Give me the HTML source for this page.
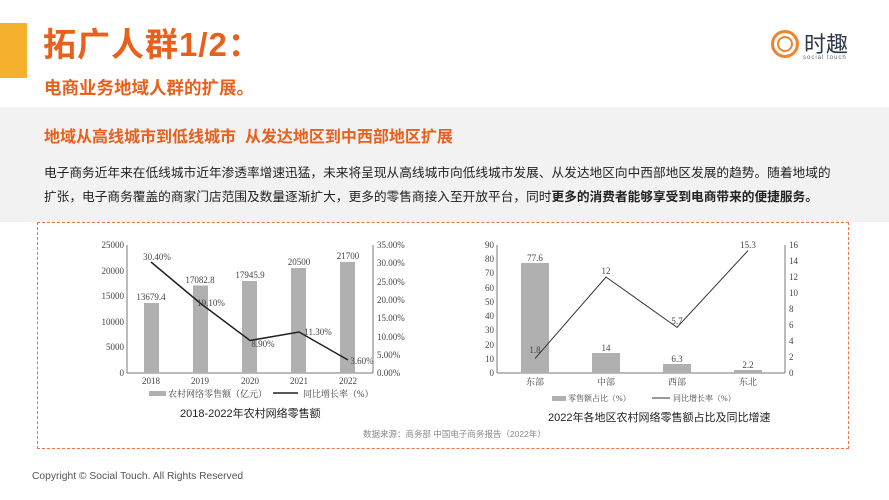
<!DOCTYPE html>
<html><head><meta charset="utf-8"><style>
body{margin:0;width:889px;height:500px;background:#fff;position:relative;overflow:hidden;font-family:"Liberation Sans","Noto Sans CJK SC",sans-serif}
.a{position:absolute;white-space:nowrap}
</style></head><body>
<div class="a" style="left:0;top:23px;width:27px;height:55px;background:#f5b12e"></div>
<div class="a" style="left:43px;top:18px;font-size:33px;font-weight:bold;color:#e8601c;letter-spacing:1px">拓广人群1/2：</div>
<div class="a" style="left:44px;top:75px;font-size:17.5px;font-weight:bold;color:#e8601c">电商业务地域人群的扩展。</div>
<div class="a" style="left:771px;top:30px;width:22px;height:22px;border-radius:50%;border:3px solid #ee8430;box-shadow:inset 0 0 0 3px #fff,inset 0 0 0 5px #ee8430"></div>
<div class="a" style="left:804px;top:27px;font-size:22px;color:#2d3a4a">时趣</div>
<div class="a" style="left:803px;top:55px;font-size:6px;color:#666;letter-spacing:1px">social touch</div>
<div class="a" style="left:0;top:107px;width:889px;height:115px;background:#f2f2f2"></div>
<div class="a" style="left:44px;top:123px;font-size:16px;font-weight:bold;color:#e8601c">地域从高线城市到低线城市&nbsp; 从发达地区到中西部地区扩展</div>
<div class="a" style="left:44px;top:162px;font-size:12.7px;color:#222">电子商务近年来在低线城市近年渗透率增速迅猛，未来将呈现从高线城市向低线城市发展、从发达地区向中西部地区发展的趋势。随着地域的</div>
<div class="a" style="left:44px;top:186px;font-size:12.7px;color:#222">扩张，电子商务覆盖的商家门店范围及数量逐渐扩大，更多的零售商接入至开放平台，同时<b>更多的消费者能够享受到电商带来的便捷服务。</b></div>
<div class="a" style="left:37px;top:222px;width:810px;height:225px;border:1px dashed #e8744a"></div>
<svg class="a" style="left:0;top:0" width="889" height="500" font-family="Liberation Serif,Noto Serif CJK SC,serif" font-size="9" fill="#444">
<g stroke="#777" stroke-width="1" fill="none">
<line x1="127" y1="245" x2="127" y2="373"/><line x1="127" y1="373" x2="373" y2="373"/><line x1="373" y1="245" x2="373" y2="373"/>
<line x1="497" y1="245" x2="497" y2="373"/><line x1="497" y1="373" x2="785" y2="373"/><line x1="785" y1="245" x2="785" y2="373"/>
</g>
<g text-anchor="end">
<text x="124" y="248">25000</text><text x="124" y="274">20000</text><text x="124" y="299">15000</text><text x="124" y="325">10000</text><text x="124" y="350">5000</text><text x="124" y="376">0</text>
<text x="494" y="248">90</text><text x="494" y="262">80</text><text x="494" y="276">70</text><text x="494" y="291">60</text><text x="494" y="305">50</text><text x="494" y="319">40</text><text x="494" y="333">30</text><text x="494" y="348">20</text><text x="494" y="362">10</text><text x="494" y="376">0</text>
</g>
<g>
<text x="377" y="248">35.00%</text><text x="377" y="266">30.00%</text><text x="377" y="285">25.00%</text><text x="377" y="303">20.00%</text><text x="377" y="321">15.00%</text><text x="377" y="340">10.00%</text><text x="377" y="358">5.00%</text><text x="377" y="376">0.00%</text>
<text x="789" y="248">16</text><text x="789" y="264">14</text><text x="789" y="280">12</text><text x="789" y="296">10</text><text x="789" y="312">8</text><text x="789" y="328">6</text><text x="789" y="344">4</text><text x="789" y="360">2</text><text x="789" y="376">0</text>
</g>
<g fill="#b0b0b0">
<rect x="144" y="303" width="15" height="70"/><rect x="193" y="285.5" width="15" height="87.5"/><rect x="242" y="281" width="15" height="92"/><rect x="291" y="268" width="15" height="105"/><rect x="340" y="262" width="15" height="111"/>
<rect x="521" y="263" width="28" height="110"/><rect x="592" y="353" width="28" height="20"/><rect x="663" y="364" width="28" height="9"/><rect x="734" y="370" width="28" height="3"/>
</g>
<polyline points="151,262 200,303 250,340.5 299,332 348,360" fill="none" stroke="#222" stroke-width="1.5"/>
<polyline points="535,358.6 606,277 677,327.4 748,250.6" fill="none" stroke="#333" stroke-width="1"/>
<g text-anchor="middle">
<text x="151" y="300">13679.4</text><text x="200" y="283">17082.8</text><text x="250" y="278">17945.9</text><text x="299" y="265">20500</text><text x="348" y="259">21700</text>
<text x="157" y="260">30.40%</text><text x="211" y="306">19.10%</text><text x="263" y="347">8.90%</text><text x="318" y="335">11.30%</text><text x="362" y="364">3.60%</text>
<text x="151" y="384">2018</text><text x="200" y="384">2019</text><text x="250" y="384">2020</text><text x="299" y="384">2021</text><text x="348" y="384">2022</text>
<text x="535" y="261">77.6</text><text x="606" y="351">14</text><text x="677" y="362">6.3</text><text x="748" y="368">2.2</text>
<text x="535" y="353">1.8</text><text x="606" y="274">12</text><text x="677" y="324">5.7</text><text x="748" y="248">15.3</text>
<text x="535" y="385">东部</text><text x="606" y="385">中部</text><text x="677" y="385">西部</text><text x="748" y="385">东北</text>
</g>
<rect x="149" y="391" width="17" height="5" fill="#b0b0b0"/><text x="168" y="397">农村网络零售额（亿元）</text>
<line x1="273" y1="393" x2="298" y2="393" stroke="#222" stroke-width="1.5"/><text x="303" y="397">同比增长率（%）</text>
<rect x="552" y="396" width="14" height="5" fill="#b0b0b0"/><text x="568" y="401" font-size="8">零售额占比（%）</text>
<line x1="652" y1="398" x2="670" y2="398" stroke="#333"/><text x="673" y="401" font-size="8">同比增长率（%）</text>
</svg>
<div class="a" style="left:180px;top:405px;font-size:11px;color:#222">2018-2022年农村网络零售额</div>
<div class="a" style="left:548px;top:409px;font-size:11px;color:#222">2022年各地区农村网络零售额占比及同比增速</div>
<div class="a" style="left:363px;top:428px;font-size:8.5px;color:#888">数据来源：商务部 中国电子商务报告（2022年）</div>
<div class="a" style="left:32px;top:471px;font-size:10.3px;color:#555">Copyright © Social Touch. All Rights Reserved</div>
</body></html>
